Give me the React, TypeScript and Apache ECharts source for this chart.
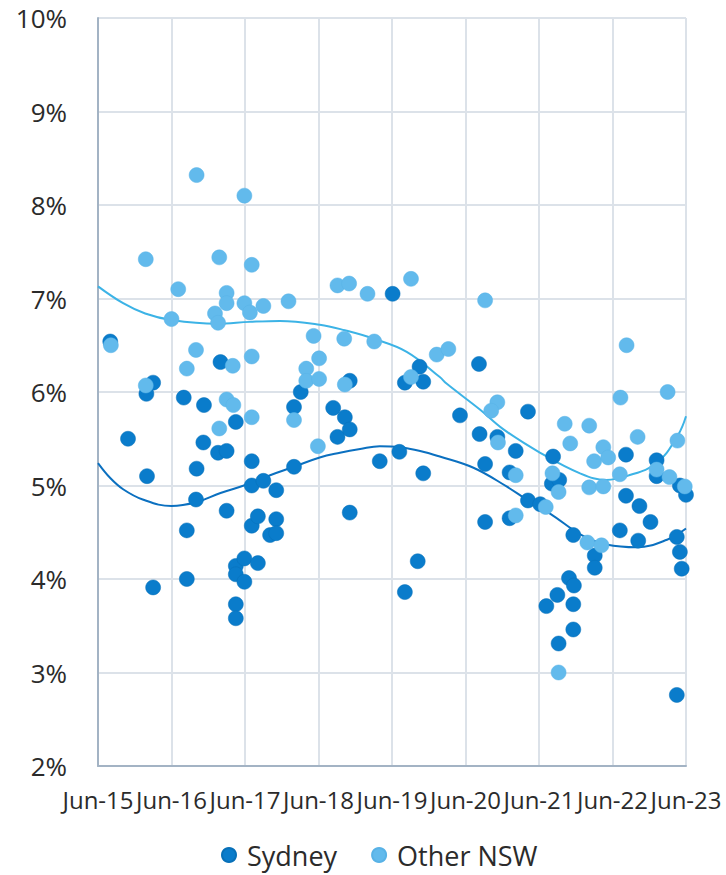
import React, { useEffect, useRef } from "react";
import * as echarts from "echarts";

// x = months since Jun-15, y = percent
const sydney: [number, number][] = [
  [2.0, 6.54], [4.9, 5.5], [7.9, 5.98], [9.0, 6.1], [8.0, 5.1], [9.0, 3.91],
  [14.0, 5.94], [14.5, 4.52], [14.5, 4.0], [16.1, 5.18], [16.0, 4.85], [17.3, 5.86],
  [17.2, 5.46], [20.0, 6.32], [19.6, 5.35], [21.0, 5.37], [21.0, 4.73], [22.5, 5.68],
  [22.5, 4.14], [22.5, 4.05], [22.5, 3.73], [22.5, 3.58], [23.9, 4.22], [23.9, 3.97],
  [25.1, 5.26], [25.1, 5.0], [25.1, 4.57], [26.1, 4.67], [26.1, 4.17], [27.0, 5.05],
  [28.1, 4.47], [29.1, 4.95], [29.1, 4.64], [29.1, 4.49], [32.0, 5.84], [32.0, 5.2],
  [33.1, 6.0], [38.4, 5.83], [39.1, 5.52], [40.3, 5.73], [41.1, 6.12], [41.1, 5.6],
  [41.1, 4.71], [46.0, 5.26], [48.1, 7.05], [49.2, 5.36], [50.1, 3.86], [50.1, 6.1],
  [52.5, 6.27], [53.1, 6.11], [52.2, 4.19], [53.1, 5.13], [59.1, 5.75], [62.2, 6.3],
  [62.3, 5.55], [63.2, 5.23], [63.2, 4.61], [65.2, 5.52], [67.2, 5.14], [67.2, 4.65],
  [68.2, 5.37], [70.2, 5.79], [70.2, 4.84], [72.2, 4.8], [73.2, 3.71], [74.3, 5.31],
  [74.1, 5.02], [75.3, 5.06], [75.0, 3.83], [75.2, 3.31], [76.9, 4.01], [77.7, 3.93],
  [77.6, 4.47], [77.6, 3.73], [77.6, 3.46], [81.1, 4.25], [81.1, 4.12], [86.2, 5.33],
  [86.2, 4.89], [85.2, 4.52], [88.4, 4.78], [88.2, 4.41], [90.2, 4.61], [91.2, 5.27],
  [91.2, 5.1], [94.5, 4.45], [95.0, 4.29], [95.3, 4.11], [94.5, 2.76], [95.0, 5.0],
  [96.0, 4.9],
];

const otherNsw: [number, number][] = [
  [2.1, 6.5], [7.8, 7.42], [7.8, 6.07], [12.0, 6.78], [13.1, 7.1], [14.5, 6.25],
  [16.0, 6.45], [16.1, 8.32], [19.1, 6.84], [19.6, 6.74], [19.8, 7.44], [19.8, 5.61],
  [21.0, 7.06], [21.0, 6.95], [22.0, 6.28], [21.0, 5.92], [22.1, 5.86], [23.9, 8.1],
  [23.9, 6.95], [24.8, 6.85], [25.1, 7.36], [25.1, 6.38], [25.1, 5.73], [27.0, 6.92],
  [31.1, 6.97], [32.0, 5.7], [34.0, 6.25], [34.0, 6.12], [35.2, 6.6], [36.1, 6.36],
  [36.1, 6.14], [35.9, 5.42], [39.1, 7.14], [41.0, 7.16], [40.2, 6.57], [40.3, 6.08],
  [44.0, 7.05], [45.1, 6.54], [51.1, 7.21], [51.1, 6.16], [55.3, 6.4], [57.2, 6.46],
  [63.2, 6.98], [65.2, 5.89], [64.2, 5.8], [65.3, 5.46], [68.2, 5.11], [68.2, 4.68],
  [73.1, 4.77], [74.2, 5.13], [75.2, 4.93], [76.2, 5.66], [77.1, 5.45], [75.2, 3.0],
  [80.2, 5.64], [80.2, 4.98], [81.0, 5.26], [82.5, 5.41], [83.3, 5.3], [82.5, 4.99],
  [79.9, 4.39], [82.2, 4.36], [85.3, 5.94], [86.3, 6.5], [85.2, 5.12], [88.1, 5.52],
  [91.2, 5.17], [93.0, 6.0], [93.3, 5.09], [94.6, 5.48], [95.8, 4.99],
];

const sydneyTrend: [number, number][] = [
  [0, 5.24], [2, 5.08], [4.1, 4.96], [7.3, 4.85], [12, 4.78], [16, 4.82], [20, 4.92],
  [24.3, 5.01], [28.1, 5.11], [32, 5.2], [36.2, 5.3], [39.5, 5.35], [42.8, 5.39],
  [46, 5.42], [49.3, 5.41], [52.6, 5.37], [55.8, 5.31], [61.3, 5.19], [66.7, 4.99],
  [70.2, 4.84], [73.8, 4.7], [79.2, 4.46], [83, 4.37], [88, 4.34], [92.9, 4.42], [96, 4.54],
];

const otherTrend: [number, number][] = [
  [0, 7.13], [4.1, 6.95], [7.7, 6.84], [12, 6.77], [19.4, 6.73], [24.8, 6.75],
  [29.7, 6.76], [36.2, 6.72], [40.3, 6.66], [45, 6.57], [50.4, 6.43], [55.8, 6.16],
  [56.9, 6.09], [62.4, 5.81], [66.2, 5.6], [72.2, 5.35], [78.7, 5.13], [83, 5.06],
  [86.3, 5.1], [91.2, 5.24], [94.7, 5.54], [96, 5.74],
];

const seriesNames = ["Sydney", "Other NSW"];
const xTickYears = [15, 16, 17, 18, 19, 20, 21, 22, 23];

const FONT = "'Open Sans', 'Noto Sans', sans-serif";
const TEXT = "#2b2b2b";
const SYD = "#0a7ccb";
const OTH = "#62baec";

export default function App() {
  const ref = useRef<HTMLDivElement>(null);
  useEffect(() => {
    if (!ref.current) return;
    document.body.style.margin = "0";
    document.body.style.overflow = "hidden";
    const chart = echarts.init(ref.current, undefined, { renderer: "svg" });
    chart.setOption({
      animation: false,
      backgroundColor: "#ffffff",
      textStyle: { fontFamily: FONT },
      grid: { left: 98, right: 40, top: 18, bottom: 109, containLabel: false },
      legend: {
        data: seriesNames,
        top: 840,
        left: 221,
        padding: 0,
        icon: "circle",
        itemWidth: 14,
        itemHeight: 14,
        itemGap: 34,
        textStyle: {
          fontFamily: FONT,
          fontSize: 27,
          lineHeight: 30,
          color: TEXT,
          padding: [0, 0, 0, 6],
        },
      },
      xAxis: {
        type: "value",
        min: 0,
        max: 96,
        interval: 12,
        axisLine: { show: true, lineStyle: { color: "#a3b3c4", width: 2 } },
        axisTick: { show: false },
        splitLine: { show: true, lineStyle: { color: "#dce2e9", width: 2 } },
        axisLabel: {
          fontFamily: FONT,
          fontSize: 24,
          lineHeight: 28,
          color: TEXT,
          margin: 19,
          formatter: (v: number) => {
            const i = Math.round(v / 12);
            return "Jun-" + xTickYears[i];
          },
        },
      },
      yAxis: {
        type: "value",
        min: 2,
        max: 10,
        interval: 1,
        axisLine: { show: true, lineStyle: { color: "#a3b3c4", width: 2 } },
        axisTick: { show: false },
        splitLine: { show: true, lineStyle: { color: "#dce2e9", width: 2 } },
        axisLabel: {
          fontFamily: FONT,
          fontSize: 26,
          lineHeight: 28,
          color: TEXT,
          margin: 31,
          formatter: "{value}%",
        },
      },
      series: [
        {
          name: "Sydney trend",
          type: "line",
          data: sydneyTrend,
          smooth: 0.4,
          showSymbol: false,
          symbol: "none",
          lineStyle: { color: "#0b70c0", width: 2 },
          z: 1,
          silent: true,
        },
        {
          name: "Other NSW trend",
          type: "line",
          data: otherTrend,
          smooth: 0.4,
          showSymbol: false,
          symbol: "none",
          lineStyle: { color: "#3cb3e6", width: 2 },
          z: 1,
          silent: true,
        },
        {
          name: "Sydney",
          type: "scatter",
          data: sydney,
          symbolSize: 15,
          itemStyle: { color: SYD, opacity: 1, borderColor: "#0870b8", borderWidth: 0.5 },
          z: 3,
        },
        {
          name: "Other NSW",
          type: "scatter",
          data: otherNsw,
          symbolSize: 15,
          itemStyle: { color: OTH, opacity: 1, borderColor: "#58b2e6", borderWidth: 0.5 },
          z: 4,
        },
      ],
    });
    return () => chart.dispose();
  }, []);
  return <div ref={ref} style={{ width: 726, height: 875 }} />;
}
